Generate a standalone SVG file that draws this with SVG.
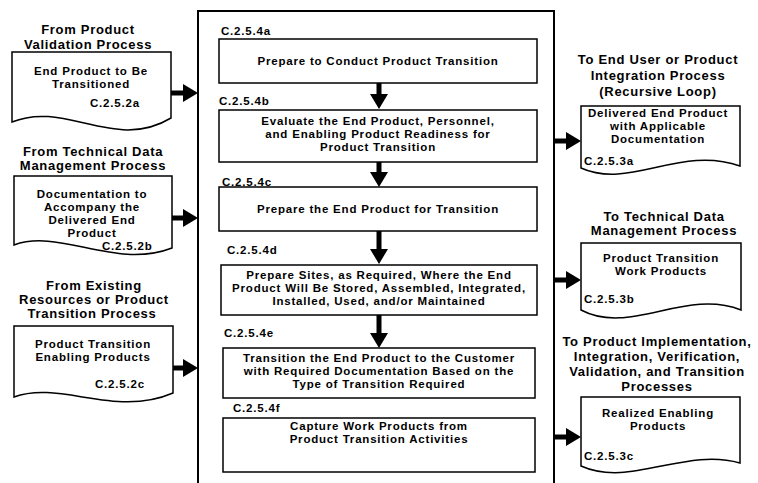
<svg xmlns="http://www.w3.org/2000/svg" width="758" height="483" viewBox="0 0 758 483">
<style>
text { font-family: "Liberation Sans", Arial, Helvetica, sans-serif; font-weight: bold; font-size: 11.5px; letter-spacing: 0.8px; text-anchor: middle; fill: #000; }
text.h { font-size: 13px; letter-spacing: 0.7px; }
text.l { text-anchor: start; }
.box { fill: #fff; stroke: #000; stroke-width: 1.5; }
.frame { fill: none; stroke: #000; stroke-width: 2; }
.arr { stroke: #000; stroke-width: 5; fill: none; }
</style>
<defs>
<marker id="ah" markerUnits="userSpaceOnUse" markerWidth="15" markerHeight="18" refX="0" refY="9" orient="auto">
<path d="M0,0 L15,9 L0,18 Z" fill="#000"/>
</marker>
</defs>
<rect width="758" height="483" fill="#fff"/>

<g id="frame">
<path class="frame" d="M198,486 V11 H554 V486"/>
</g>

<g id="in-a">
<text class="h" x="88" y="34">From Product</text>
<text class="h" x="88" y="49">Validation Process</text>
<path class="box" d="M12,52 H171 V118 C115,152 65,100 12,122 Z"/>
<text x="91" y="75">End Product to Be</text>
<text x="91" y="88">Transitioned</text>
<text class="l" x="90" y="107">C.2.5.2a</text>
</g>

<g id="in-b">
<text class="h" x="93" y="156">From Technical Data</text>
<text class="h" x="93" y="170">Management Process</text>
<path class="box" d="M14,176 H172 V248 C115,270 60,228 14,245 Z"/>
<text x="92" y="198">Documentation to</text>
<text x="92" y="211">Accompany the</text>
<text x="92" y="224">Delivered End</text>
<text x="92" y="237">Product</text>
<text class="l" x="102" y="250">C.2.5.2b</text>
</g>

<g id="in-c">
<text class="h" x="94" y="290">From Existing</text>
<text class="h" x="94" y="304">Resources or Product</text>
<text class="h" x="92" y="318">Transition Process</text>
<path class="box" d="M14,326 H173 V393 C115,418 60,380 14,397 Z"/>
<text x="93" y="348">Product Transition</text>
<text x="93" y="361">Enabling Products</text>
<text class="l" x="95" y="388">C.2.5.2c</text>
</g>

<g id="step-a">
<text class="l" x="221" y="35">C.2.5.4a</text>
<rect class="box" x="219" y="39" width="318" height="44"/>
<text x="378" y="65">Prepare to Conduct Product Transition</text>
</g>

<g id="step-b">
<text class="l" x="219" y="105">C.2.5.4b</text>
<rect class="box" x="219" y="110" width="318" height="52"/>
<text x="378" y="125">Evaluate the End Product, Personnel,</text>
<text x="378" y="138">and Enabling Product Readiness for</text>
<text x="378" y="151">Product Transition</text>
</g>

<g id="step-c">
<text class="l" x="222" y="186">C.2.5.4c</text>
<rect class="box" x="219" y="187" width="318" height="44"/>
<text x="378" y="213">Prepare the End Product for Transition</text>
</g>

<g id="step-d">
<text class="l" x="227" y="254">C.2.5.4d</text>
<rect class="box" x="221" y="265" width="316" height="50"/>
<text x="379" y="279">Prepare Sites, as Required, Where the End</text>
<text x="379" y="292">Product Will Be Stored, Assembled, Integrated,</text>
<text x="379" y="305">Installed, Used, and/or Maintained</text>
</g>

<g id="step-e">
<text class="l" x="224" y="337">C.2.5.4e</text>
<rect class="box" x="223" y="348" width="312" height="50"/>
<text x="379" y="362">Transition the End Product to the Customer</text>
<text x="379" y="375">with Required Documentation Based on the</text>
<text x="379" y="388">Type of Transition Required</text>
</g>

<g id="step-f">
<text class="l" x="233" y="412">C.2.5.4f</text>
<rect class="box" x="223" y="418" width="312" height="54"/>
<text x="379" y="430">Capture Work Products from</text>
<text x="379" y="443">Product Transition Activities</text>
</g>

<g id="out-a">
<text class="h" x="658" y="64">To End User or Product</text>
<text class="h" x="658" y="80">Integration Process</text>
<text class="h" x="658" y="96">(Recursive Loop)</text>
<path class="box" d="M581,106 H740 V166 C680,145 630,190 581,168 Z"/>
<text x="658" y="117">Delivered End Product</text>
<text x="658" y="130">with Applicable</text>
<text x="658" y="143">Documentation</text>
<text class="l" x="584" y="165">C.2.5.3a</text>
</g>

<g id="out-b">
<text class="h" x="664" y="221">To Technical Data</text>
<text class="h" x="664" y="235">Management Process</text>
<path class="box" d="M581,243 H741 V310 C685,288 630,336 581,310 Z"/>
<text x="661" y="262">Product Transition</text>
<text x="661" y="275">Work Products</text>
<text class="l" x="584" y="303">C.2.5.3b</text>
</g>

<g id="out-c">
<text class="h" x="657" y="346">To Product Implementation,</text>
<text class="h" x="657" y="361">Integration, Verification,</text>
<text class="h" x="657" y="376">Validation, and Transition</text>
<text class="h" x="657" y="391">Processes</text>
<path class="box" d="M581,397 H740 V463 C685,447 630,488 581,466 Z"/>
<text x="658" y="417">Realized Enabling</text>
<text x="658" y="430">Products</text>
<text class="l" x="584" y="460">C.2.5.3c</text>
</g>

<g id="connectors">
<line class="arr" x1="171" y1="93" x2="183" y2="93" marker-end="url(#ah)"/>
<line class="arr" x1="172" y1="218" x2="183" y2="218" marker-end="url(#ah)"/>
<line class="arr" x1="173" y1="368" x2="183" y2="368" marker-end="url(#ah)"/>
<line class="arr" x1="554" y1="141" x2="566" y2="141" marker-end="url(#ah)"/>
<line class="arr" x1="554" y1="280" x2="566" y2="280" marker-end="url(#ah)"/>
<line class="arr" x1="554" y1="437" x2="566" y2="437" marker-end="url(#ah)"/>
<line class="arr" x1="379" y1="83" x2="379" y2="94" marker-end="url(#ah)"/>
<line class="arr" x1="379" y1="162" x2="379" y2="172" marker-end="url(#ah)"/>
<line class="arr" x1="379" y1="231" x2="379" y2="249" marker-end="url(#ah)"/>
<line class="arr" x1="379" y1="315" x2="379" y2="333" marker-end="url(#ah)"/>
</g>
</svg>
